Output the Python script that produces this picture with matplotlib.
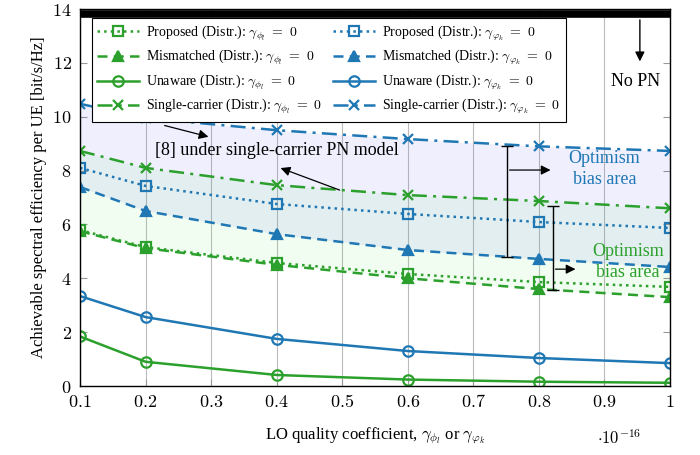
import matplotlib
matplotlib.use("Agg")
import matplotlib.pyplot as plt
import numpy as np

plt.rcParams['font.family'] = ['Liberation Serif', 'DejaVu Serif']
plt.rcParams['mathtext.fontset'] = 'cm'

x = [0.1, 0.2, 0.4, 0.6, 0.8, 1.0]

# green: gamma_phi_l = 0 ; blue: gamma_varphi_k = 0
g_prop = [5.79, 5.16, 4.57, 4.16, 3.86, 3.68]
g_mism = [5.75, 5.12, 4.50, 4.00, 3.60, 3.30]
g_unaw = [1.84, 0.90, 0.41, 0.24, 0.16, 0.12]
g_sc   = [8.73, 8.10, 7.46, 7.09, 6.87, 6.60]

b_prop = [8.10, 7.43, 6.76, 6.39, 6.09, 5.87]
b_mism = [7.39, 6.50, 5.64, 5.05, 4.72, 4.42]
b_unaw = [3.34, 2.56, 1.75, 1.30, 1.04, 0.85]
b_sc   = [10.48, 9.95, 9.50, 9.17, 8.90, 8.73]

no_pn = 13.8

GREEN = '#2ca02c'
BLUE = '#1f77b4'

fig = plt.figure(figsize=(7, 4.55), dpi=100)
ax = fig.add_axes([0.1143, 0.1516, 0.8429, 0.8286])

ax.fill_between(x, b_mism, b_sc, color=(0.1, 0.1, 0.95), alpha=0.065, lw=0)
ax.fill_between(x, g_mism, g_sc, color=(0.3, 0.9, 0.3), alpha=0.075, lw=0)

ax.axhline(no_pn, color='black', lw=5.5, zorder=3)

lw = 1.8
ms = 7.5
mew = 1.6
h = []
h.append(ax.plot(x, g_prop, ':', color=GREEN, lw=lw, marker='s', ms=ms, mfc='none', mew=mew,
                 label=r'Proposed (Distr.): $\gamma_{\phi_l}\ =\ 0$')[0])
h.append(ax.plot(x, g_mism, '--', color=GREEN, lw=lw, marker='^', ms=ms, mew=mew, dashes=(4, 2.5),
                 label=r'Mismatched (Distr.): $\gamma_{\phi_l}\ =\ 0$')[0])
h.append(ax.plot(x, g_unaw, '-', color=GREEN, lw=lw, marker='o', ms=ms, mfc='none', mew=mew,
                 label=r'Unaware (Distr.): $\gamma_{\phi_l}\ =\ 0$')[0])
h.append(ax.plot(x, g_sc, '-.', color=GREEN, lw=lw, marker='x', ms=ms, mew=mew, dashes=(6, 2.5, 1.2, 2.5),
                 label=r'Single-carrier (Distr.): $\gamma_{\phi_l}\ =\ 0$')[0])
h.append(ax.plot(x, b_prop, ':', color=BLUE, lw=lw, marker='s', ms=ms, mfc='none', mew=mew,
                 label=r'Proposed (Distr.): $\gamma_{\varphi_k}\ =\ 0$')[0])
h.append(ax.plot(x, b_mism, '--', color=BLUE, lw=lw, marker='^', ms=ms, mew=mew, dashes=(4, 2.5),
                 label=r'Mismatched (Distr.): $\gamma_{\varphi_k}\ =\ 0$')[0])
h.append(ax.plot(x, b_unaw, '-', color=BLUE, lw=lw, marker='o', ms=ms, mfc='none', mew=mew,
                 label=r'Unaware (Distr.): $\gamma_{\varphi_k}\ =\ 0$')[0])
h.append(ax.plot(x, b_sc, '-.', color=BLUE, lw=lw, marker='x', ms=ms, mew=mew, dashes=(6, 2.5, 1.2, 2.5),
                 label=r'Single-carrier (Distr.): $\gamma_{\varphi_k}\ =\ 0$')[0])

ax.set_xlim(0.1, 1.0)
ax.set_ylim(0, 14)
xt = [0.1, 0.2, 0.3, 0.4, 0.5, 0.6, 0.7, 0.8, 0.9, 1.0]
xtl = [r'$0.1$', r'$0.2$', r'$0.3$', r'$0.4$', r'$0.5$', r'$0.6$', r'$0.7$', r'$0.8$', r'$0.9$', r'$1$']
yt = [0, 2, 4, 6, 8, 10, 12, 14]
ytl = [r'$%d$' % v for v in yt]
ax.set_xticks(xt)
ax.set_xticklabels(xtl, fontsize=13)
ax.set_yticks(yt)
ax.set_yticklabels(ytl, fontsize=13)
ax.tick_params(direction='in', length=5, color='#999999', top=True, right=True)
ax.tick_params(axis='x', pad=6)
ax.tick_params(axis='y', pad=6)
ax.grid(axis='x', color='#bbbbbb', lw=0.8)
ax.set_axisbelow(True)
for s in ax.spines.values():
    s.set_linewidth(1.0)

ax.set_xlabel(r'LO quality coefficient, $\gamma_{\phi_l}$ or $\gamma_{\varphi_k}$', fontsize=12, labelpad=10)
ax.set_ylabel('Achievable spectral efficiency per UE [bit/s/Hz]', fontsize=12, labelpad=4)
fig.text(0.885, 0.035, r'$\cdot 10^{-16}$', fontsize=12, ha='center', va='center')

leg = ax.legend(handles=h, ncol=2, loc='upper left', bbox_to_anchor=(0.008, 0.995),
                fontsize=10, frameon=True, fancybox=False, edgecolor='black',
                framealpha=1, handlelength=3.0, columnspacing=0.8, labelspacing=0.38,
                borderpad=0.4, handletextpad=0.5)
leg.get_frame().set_linewidth(0.8)
leg.set_zorder(5)

# annotations
ax.text(0.40, 8.76, '[8] under single-carrier PN model', fontsize=13, ha='center', va='center', zorder=4)
ax.annotate('', xy=(0.300, 9.23), xytext=(0.225, 9.70),
            arrowprops=dict(arrowstyle='-|>', color='black', lw=0.9, mutation_scale=14), zorder=4)
ax.annotate('', xy=(0.402, 8.13), xytext=(0.5, 7.24),
            arrowprops=dict(arrowstyle='-|>', color='black', lw=0.9, mutation_scale=14), zorder=4)

# optimism bias brackets
ax.errorbar([0.751], [(8.91 + 4.79) / 2], yerr=[[(8.91 - 4.79) / 2], [(8.91 - 4.79) / 2]],
            fmt='none', ecolor='black', elinewidth=1.0, capsize=4, capthick=1.0, zorder=4)
ax.annotate('', xy=(0.822, 8.02), xytext=(0.751, 8.02),
            arrowprops=dict(arrowstyle='-|>', color='black', lw=0.9, mutation_scale=14), zorder=4)
ax.text(0.90, 8.05, 'Optimism\nbias area', color=BLUE, fontsize=13, ha='center', va='center',
        linespacing=1.3, zorder=4)

ax.errorbar([0.821], [(6.69 + 3.56) / 2], yerr=[[(6.69 - 3.56) / 2], [(6.69 - 3.56) / 2]],
            fmt='none', ecolor='black', elinewidth=1.0, capsize=4, capthick=1.0, zorder=4)
ax.annotate('', xy=(0.860, 4.34), xytext=(0.821, 4.34),
            arrowprops=dict(arrowstyle='-|>', color='black', lw=0.9, mutation_scale=14), zorder=4)
ax.text(0.936, 4.62, 'Optimism\nbias area', color=GREEN, fontsize=13, ha='center', va='center',
        linespacing=1.3, zorder=4)

# No PN
ax.annotate('', xy=(0.954, 11.95), xytext=(0.954, 13.7),
            arrowprops=dict(arrowstyle='-|>', color='black', lw=1.0, mutation_scale=14), zorder=4)
ax.text(0.948, 11.3, 'No PN', fontsize=13, ha='center', va='center', zorder=4)

fig.savefig('out.png', dpi=100)
